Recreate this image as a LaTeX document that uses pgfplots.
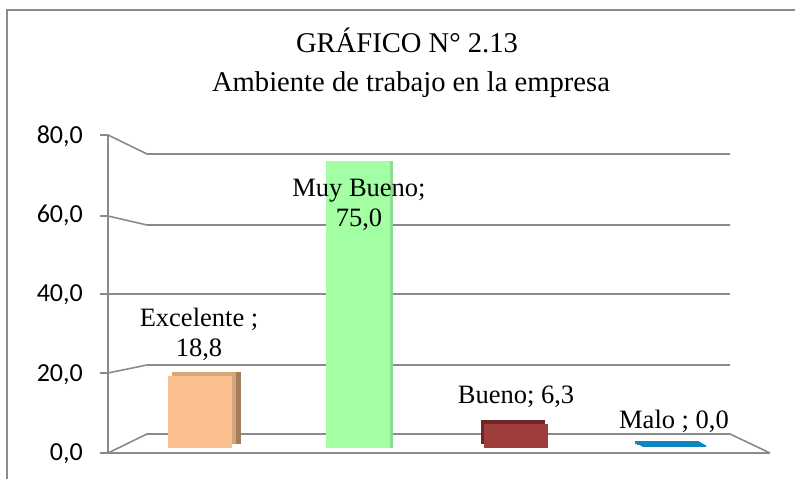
\documentclass[border=0pt]{standalone}
\usepackage{pgfplots}
\pgfplotsset{compat=1.18}
\usepackage{fontspec}
\setmainfont{Liberation Serif}
\newfontfamily\tickfont{Carlito}

\definecolor{gridgray}{RGB}{138,138,138}
\definecolor{framegray}{RGB}{140,140,140}
\definecolor{excfront}{RGB}{250,192,144}
\definecolor{exctop}{RGB}{214,165,122}
\definecolor{excside}{RGB}{164,124,90}
\definecolor{mbfront}{RGB}{163,255,163}
\definecolor{mbside}{RGB}{140,222,140}
\definecolor{bufront}{RGB}{158,62,60}
\definecolor{buside}{RGB}{112,38,38}
\definecolor{malo}{RGB}{14,134,191}

\begin{document}
\begin{tikzpicture}[x=1bp,y=1bp]
\path[use as bounding box] (0,0) rectangle (795,479);

% decorative frame, walls and floor (pixel coordinates)
\begin{axis}[at={(0,0)}, anchor=south west, scale only axis,
  width=795bp, height=479bp, xmin=0, xmax=795, ymin=0, ymax=479,
  y dir=reverse, hide axis, clip=false]
\addplot[framegray, line width=2.5bp, line join=miter] coordinates {(7,479) (7,10) (795,10)};
\addplot[gridgray, line width=1.6bp, line join=round] coordinates {(108,135) (108,453)};
\addplot[gridgray, line width=1.6bp, line join=round] coordinates {(100,453) (770,453)};
\addplot[gridgray, line width=1.6bp, line join=round] coordinates {(108,453) (147,434) (730,434) (770,453)};
\addplot[gridgray, line width=1.6bp, line join=round] coordinates {(100,373) (108,373) (147,365) (730,365)};
\addplot[gridgray, line width=1.6bp, line join=round] coordinates {(100,294) (730,294)};
\addplot[gridgray, line width=1.6bp, line join=round] coordinates {(100,216) (108,216) (147,225) (730,225)};
\addplot[gridgray, line width=1.6bp, line join=round] coordinates {(100,135) (108,135) (147,154) (730,154)};
\end{axis}

% front value axis labels
\begin{axis}[at={(108bp,26bp)}, anchor=south west, scale only axis,
  width=10bp, height=318bp, xmin=0, xmax=1, ymin=0, ymax=80,
  axis x line=none, axis y line*=left, axis line style={draw=none},
  ytick={0,20,40,60,80}, major tick length=0pt,
  yticklabel style={font=\tickfont\fontsize{26bp}{30bp}\selectfont, anchor=east, inner sep=0pt, xshift=-25bp, yshift=-1bp},
  /pgf/number format/.cd, fixed, fixed zerofill, precision=1, use comma, assume math mode=true]
\end{axis}

% bars
\begin{axis}[at={(121bp,31bp)}, anchor=south west, scale only axis,
  width=632bp, height=306.4bp, xmin=-0.5, xmax=3.5, ymin=0, ymax=80,
  hide axis, clip=false, ybar, bar width=64bp, bar shift=0bp]
\addplot[fill=excside, draw=none, xshift=9bp, yshift=4bp] coordinates {(0,18.8)};
\addplot[fill=exctop, draw=none, xshift=4bp, yshift=4bp] coordinates {(0,18.8)};
\addplot[fill=excfront, draw=none] coordinates {(0,18.8)};
\addplot[fill=mbside, draw=none, xshift=3bp] coordinates {(1,75.0)};
\addplot[fill=mbfront, draw=none] coordinates {(1,75.0)};
\addplot[fill=buside, draw=none, xshift=-3bp, yshift=4bp] coordinates {(2,6.3)};
\addplot[fill=bufront, draw=none] coordinates {(2,6.3)};
\addplot[draw=malo, line width=2.5bp, xshift=-7bp, yshift=5.5bp] coordinates {(3,0.0)};
\addplot[draw=malo, line width=2.5bp, xshift=-5.2bp, yshift=4.6bp] coordinates {(3,0.0)};
\addplot[draw=malo, line width=2.5bp, xshift=-3.5bp, yshift=3.8bp] coordinates {(3,0.0)};
\addplot[draw=malo, line width=2.5bp, xshift=-1.7bp, yshift=2.9bp] coordinates {(3,0.0)};
\addplot[draw=malo, line width=2.5bp, yshift=2bp] coordinates {(3,0.0)};
\end{axis}

% titles and data labels
\begin{axis}[at={(0,0)}, anchor=south west, scale only axis,
  width=795bp, height=479bp, xmin=0, xmax=795, ymin=0, ymax=479,
  y dir=reverse, hide axis, clip=false]
\node[anchor=base, font=\fontsize{28.6bp}{34bp}\selectfont] at (axis cs:407,53) {GRÁFICO N° 2.13};
\node[anchor=base, font=\fontsize{28.6bp}{34bp}\selectfont] at (axis cs:411,92) {Ambiente de trabajo en la empresa};
\node[anchor=base, font=\fontsize{26.5bp}{30bp}\selectfont] at (axis cs:199,327) {Excelente ;};
\node[anchor=base, font=\fontsize{26.5bp}{30bp}\selectfont] at (axis cs:199,357) {18,8};
\node[anchor=base, font=\fontsize{26.5bp}{30bp}\selectfont] at (axis cs:359,197) {Muy Bueno;};
\node[anchor=base, font=\fontsize{26.5bp}{30bp}\selectfont] at (axis cs:359,227) {75,0};
\node[anchor=base, font=\fontsize{26.5bp}{30bp}\selectfont] at (axis cs:516,403) {Bueno; 6,3};
\node[anchor=base, font=\fontsize{26.5bp}{30bp}\selectfont] at (axis cs:674,428) {Malo ; 0,0};
\end{axis}
\end{tikzpicture}
\end{document}
